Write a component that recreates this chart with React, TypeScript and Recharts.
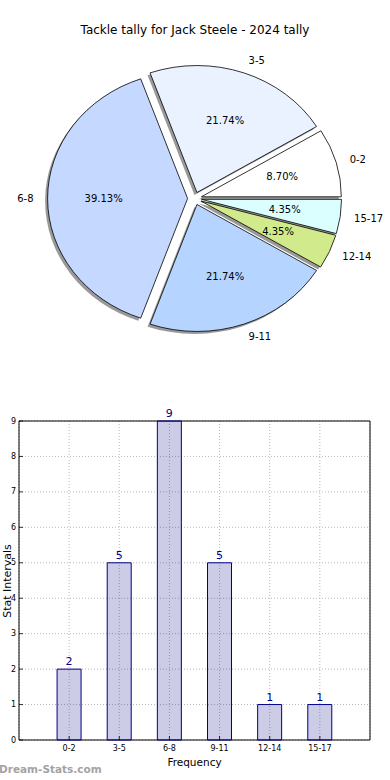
import React from 'react';
import {
  PieChart, Pie, Cell, BarChart, Bar, XAxis, YAxis, CartesianGrid,
  LabelList, ReferenceArea, Label,
} from 'recharts';

const categories = ['0-2', '3-5', '6-8', '9-11', '12-14', '15-17'];
const tallies = [2, 5, 9, 5, 1, 1];
const sliceColors = ['#ffffff', '#eaf1ff', '#c5d8ff', '#b5d4ff', '#d1eb8c', '#dbffff'];
const yTicks = [0, 1, 2, 3, 4, 5, 6, 7, 8, 9];
const xTicks = [0, 1, 2, 3, 4, 5];

const pieData = categories.map((name, i) => ({ name, value: tallies[i] }));
const barData = categories.map((name, i) => ({ pos: i, name, value: tallies[i] }));

const FONT = '"DejaVu Sans", Verdana, sans-serif';
const RAD = Math.PI / 180;
const EXPLODE = 0.05;
const SQUASH = 0.907; // pie is slightly flattened, like the matplotlib original

const wedgePath = (cx: number, cy: number, rx: number, ry: number, a0: number, a1: number) => {
  const x1 = cx + rx * Math.cos(a0 * RAD);
  const y1 = cy - ry * Math.sin(a0 * RAD);
  const x2 = cx + rx * Math.cos(a1 * RAD);
  const y2 = cy - ry * Math.sin(a1 * RAD);
  const large = Math.abs(a1 - a0) > 180 ? 1 : 0;
  return `M${cx},${cy} L${x1},${y1} A${rx},${ry} 0 ${large} 0 ${x2},${y2} Z`;
};

const wedgeGeom = (p: any) => {
  const mid = (p.startAngle + p.endAngle) / 2;
  const rx = p.outerRadius;
  const ry = p.outerRadius * SQUASH;
  const ox = p.cx + EXPLODE * rx * Math.cos(mid * RAD);
  const oy = p.cy - EXPLODE * ry * Math.sin(mid * RAD);
  return { ox, oy, rx, ry };
};

const Wedge = (p: any) => {
  const { ox, oy, rx, ry } = wedgeGeom(p);
  return (
    <path
      d={wedgePath(ox, oy, rx, ry, p.startAngle, p.endAngle)}
      fill={p.fill}
      stroke="#000"
      strokeWidth={0.8}
      strokeLinejoin="round"
    />
  );
};

const WedgeShadow = (p: any) => {
  const { ox, oy, rx, ry } = wedgeGeom(p);
  return (
    <path
      d={wedgePath(ox - 2.5, oy + 2.5, rx, ry, p.startAngle, p.endAngle)}
      fill="#333"
      fillOpacity={0.5}
      stroke="none"
    />
  );
};

const pieLabel = (p: any) => {
  const c = Math.cos(p.midAngle * RAD);
  const s = Math.sin(p.midAngle * RAD);
  const rx = p.outerRadius;
  const ry = p.outerRadius * SQUASH;
  const px = p.cx + (EXPLODE + 0.6) * rx * c;
  const py = p.cy - (EXPLODE + 0.6) * ry * s;
  const lx = p.cx + (EXPLODE + 1.1) * rx * c;
  const ly = p.cy - (EXPLODE + 1.1) * ry * s;
  return (
    <g style={{ fontFamily: FONT, fontSize: 10 }}>
      <text x={px} y={py} textAnchor="middle" dominantBaseline="central" fill="#000">
        {(p.percent * 100).toFixed(2)}%
      </text>
      <text x={lx} y={ly} textAnchor={c >= 0 ? 'start' : 'end'} dominantBaseline="central" fill="#000">
        {p.name}
      </text>
    </g>
  );
};

const LeftTick = (p: any) => (
  <g>
    <line x1={p.x} y1={p.y} x2={p.x + 4} y2={p.y} stroke="#000" strokeWidth={0.8} />
    <text x={p.x - 3} y={p.y} textAnchor="end" dominantBaseline="central" fontSize={8} fontFamily={FONT} fill="#000">
      {p.payload.value}
    </text>
  </g>
);

const RightTick = (p: any) => (
  <line x1={p.x} y1={p.y} x2={p.x - 4} y2={p.y} stroke="#000" strokeWidth={0.8} />
);

const BottomTick = (p: any) => (
  <g>
    <line x1={p.x} y1={p.y} x2={p.x} y2={p.y - 4} stroke="#000" strokeWidth={0.8} />
    <text x={p.x} y={p.y + 8} textAnchor="middle" dominantBaseline="central" fontSize={8} fontFamily={FONT} fill="#000">
      {categories[p.payload.value]}
    </text>
  </g>
);

const TopTick = (p: any) => (
  <line x1={p.x} y1={p.y} x2={p.x} y2={p.y + 4} stroke="#000" strokeWidth={0.8} />
);

export default function App() {
  return (
    <div style={{ position: 'absolute', left: 0, top: 0, width: 390, height: 780, background: '#fff', fontFamily: FONT }}>
      <div style={{ position: 'absolute', top: 23, left: 0, width: 390, textAlign: 'center', fontSize: 12, color: '#000' }}>
        Tackle tally for Jack Steele - 2024 tally
      </div>

      <div style={{ position: 'absolute', top: 0, left: 0 }}>
        <PieChart width={390} height={400} margin={{ top: 0, right: 0, bottom: 0, left: 0 }}>
          <Pie
            data={pieData}
            dataKey="value"
            nameKey="name"
            cx={194.6}
            cy={198.5}
            outerRadius={140}
            startAngle={0}
            endAngle={360}
            stroke="none"
            shape={WedgeShadow}
            isAnimationActive={false}
          >
            {pieData.map((_d, i) => (
              <Cell key={`s-${i}`} fill={sliceColors[i]} />
            ))}
          </Pie>
          <Pie
            data={pieData}
            dataKey="value"
            nameKey="name"
            cx={194.6}
            cy={198.5}
            outerRadius={140}
            startAngle={0}
            endAngle={360}
            shape={Wedge}
            label={pieLabel}
            labelLine={false}
            isAnimationActive={false}
          >
            {pieData.map((_d, i) => (
              <Cell key={`c-${i}`} fill={sliceColors[i]} />
            ))}
          </Pie>
        </PieChart>
      </div>

      <div style={{ position: 'absolute', top: 400, left: 0 }}>
        <BarChart width={390} height={380} data={barData} margin={{ top: 21, right: 20, bottom: 0, left: 0 }}>
          <CartesianGrid stroke="#b8b8b8" strokeDasharray="1 2" />
          <XAxis
            type="number"
            dataKey="pos"
            domain={[-1, 6]}
            ticks={xTicks}
            height={40}
            axisLine={false}
            tickLine={false}
            tickSize={0}
            tickMargin={0}
            tick={BottomTick}
          >
            <Label value="Frequency" position="insideBottom" offset={14} fontSize={10.5} fill="#000" fontFamily={FONT} />
          </XAxis>
          <XAxis
            xAxisId="top"
            orientation="top"
            type="number"
            domain={[-1, 6]}
            ticks={xTicks}
            height={0}
            axisLine={false}
            tickLine={false}
            tickSize={0}
            tickMargin={0}
            tick={TopTick}
          />
          <YAxis
            type="number"
            domain={[0, 9]}
            ticks={yTicks}
            width={19}
            axisLine={false}
            tickLine={false}
            tickSize={0}
            tickMargin={0}
            tick={LeftTick}
          />
          <YAxis
            yAxisId="right"
            orientation="right"
            type="number"
            domain={[0, 9]}
            ticks={yTicks}
            width={0}
            axisLine={false}
            tickLine={false}
            tickSize={0}
            tickMargin={0}
            tick={RightTick}
          />
          <Bar dataKey="value" barSize={24} fill="#000080" fillOpacity={0.2} stroke="#00008b" strokeWidth={1} isAnimationActive={false}>
            <LabelList dataKey="value" position="top" offset={4} fill="#00008b" fontSize={11} fontFamily={FONT} />
          </Bar>
          <ReferenceArea x1={-1} x2={6} y1={0} y2={9} fill="none" stroke="#000" strokeWidth={1} fillOpacity={0} />
        </BarChart>
      </div>

      <div
        style={{
          position: 'absolute', left: 6.5, top: 581, fontSize: 11, color: '#000',
          transform: 'translate(-50%, -50%) rotate(-90deg)', whiteSpace: 'nowrap',
        }}
      >
        Stat Intervals
      </div>

      <div style={{ position: 'absolute', left: -1, top: 763, fontSize: 10.5, fontWeight: 'bold', color: '#a3a3a3', whiteSpace: 'nowrap' }}>
        Dream-Stats.com
      </div>
    </div>
  );
}
